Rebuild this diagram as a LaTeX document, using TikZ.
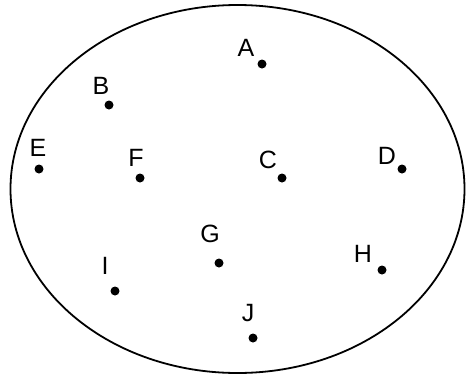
\documentclass[tikz,border=0pt]{standalone}
\usepackage{fontspec}
\setmainfont{Liberation Sans}
\usetikzlibrary{positioning}

\begin{document}
\begin{tikzpicture}[
  x=1pt,y=-1pt,
  dot/.style={circle,fill=black,inner sep=0pt,minimum size=9pt},
  lbl/.style={inner sep=0pt,font=\fontsize{25}{25}\selectfont}
]
  \useasboundingbox (0,0) rectangle (470,375);
  \draw[line width=1.8pt] (237.5,189) ellipse [x radius=227, y radius=184];
  % points
  \node[dot] (a) at (262,64) {};
  \node[dot] (b) at (109,105) {};
  \node[dot] (e) at (39,169) {};
  \node[dot] (f) at (140,178) {};
  \node[dot] (c) at (282,178) {};
  \node[dot] (d) at (402,169) {};
  \node[dot] (g) at (219,263) {};
  \node[dot] (h) at (382,270) {};
  \node[dot] (i) at (115,291) {};
  \node[dot] (j) at (253,338) {};
  % letters
  \node[lbl] (la) at (246,48) {A};
  \node[lbl] (lb) at (101,86) {B};
  \node[lbl] (le) at (38,148) {E};
  \node[lbl] (lf) at (136,158) {F};
  \node[lbl] (lc) at (268,160) {C};
  \node[lbl] (ld) at (387,156) {D};
  \node[lbl] (lg) at (210,234) {G};
  \node[lbl] (lh) at (363,254) {H};
  \node[lbl] (li) at (105,266) {I};
  \node[lbl] (lj) at (248,313) {J};
\end{tikzpicture}
\end{document}
